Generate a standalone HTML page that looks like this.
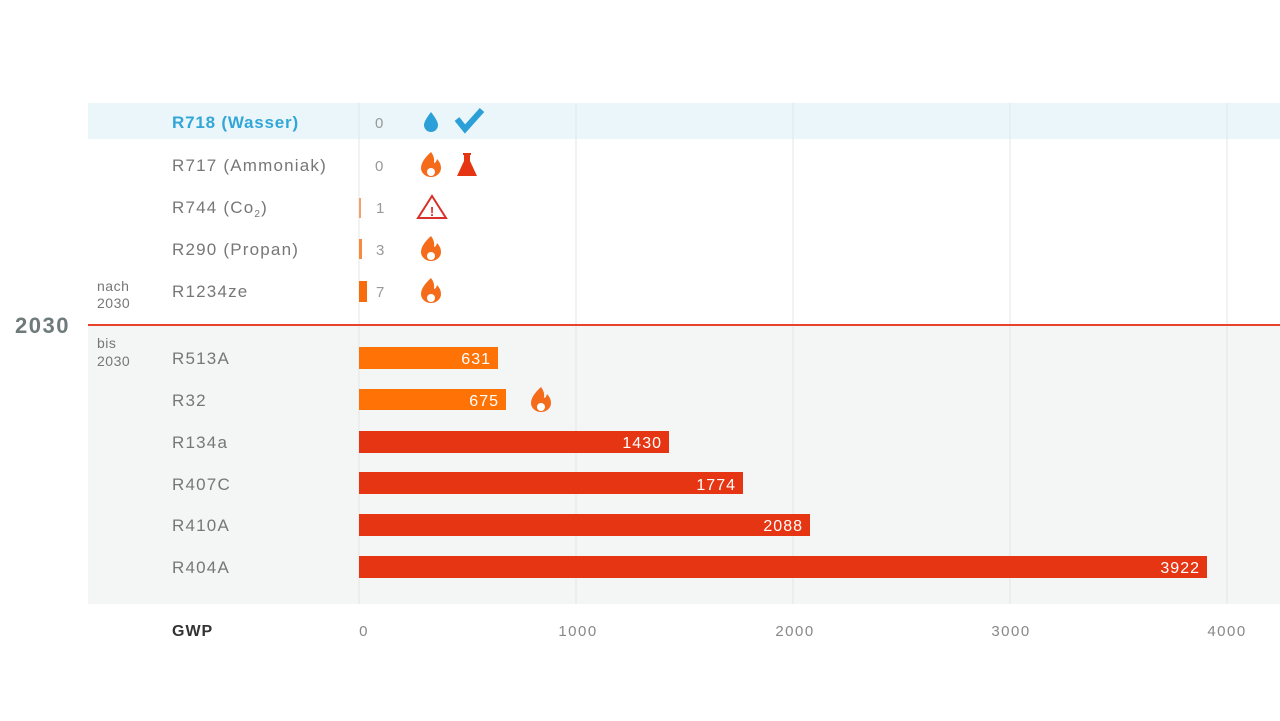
<!DOCTYPE html>
<html><head><meta charset="utf-8"><style>
body{margin:0;background:#fff}
svg{display:block;font-family:"Liberation Sans",sans-serif}
</style></head><body>
<svg width="1280" height="721" viewBox="0 0 1280 721">
<rect x="88" y="103" width="1192" height="36" fill="#eaf6fa"/>
<rect x="88" y="326" width="1192" height="278" fill="#f4f5f5"/>
<g stroke="#e3e5e5" stroke-width="1">
<line x1="359" y1="103" x2="359" y2="604"/>
<line x1="576" y1="103" x2="576" y2="604"/>
<line x1="793" y1="103" x2="793" y2="604"/>
<line x1="1010" y1="103" x2="1010" y2="604"/>
<line x1="1227" y1="103" x2="1227" y2="604"/>
</g>
<line x1="88" y1="325" x2="1280" y2="325" stroke="#e8412c" stroke-width="2"/>
<g font-size="17" fill="#777" letter-spacing="1.2">
<text x="172" y="128" fill="#33a6d8" font-weight="bold" letter-spacing="0.8">R718 (Wasser)</text>
<text x="172" y="171">R717 (Ammoniak)</text>
<text x="172" y="213">R744 (Co<tspan font-size="10" dy="4">2</tspan><tspan dy="-4">)</tspan></text>
<text x="172" y="255">R290 (Propan)</text>
<text x="172" y="297">R1234ze</text>
<text x="172" y="364">R513A</text>
<text x="172" y="406">R32</text>
<text x="172" y="448">R134a</text>
<text x="172" y="490">R407C</text>
<text x="172" y="531">R410A</text>
<text x="172" y="573">R404A</text>
</g>
<g font-size="15" fill="#999">
<text x="375" y="128">0</text><text x="375" y="171">0</text>
<text x="376" y="213">1</text><text x="376" y="255">3</text><text x="376" y="297">7</text>
</g>
<g font-size="14" fill="#777" letter-spacing="0.5">
<text x="97" y="291">nach</text><text x="97" y="308">2030</text>
<text x="97" y="348">bis</text><text x="97" y="366">2030</text>
</g>
<text x="15" y="333" font-size="22" font-weight="bold" fill="#6f7a7a" letter-spacing="1.5">2030</text>
<g fill="#f6a06a"><rect x="359" y="198" width="2" height="20"/></g>
<rect x="359" y="239" width="3" height="20" fill="#f78a3e"/>
<rect x="359" y="281" width="8" height="21" fill="#f76c0c"/>
<rect x="359" y="347" width="139" height="22" fill="#ff7306"/>
<rect x="359" y="389" width="147" height="21" fill="#ff7306"/>
<rect x="359" y="431" width="310" height="22" fill="#e53512"/>
<rect x="359" y="472" width="384" height="22" fill="#e53512"/>
<rect x="359" y="514" width="451" height="22" fill="#e53512"/>
<rect x="359" y="556" width="848" height="22" fill="#e53512"/>
<g font-size="16" fill="#fff" text-anchor="end" letter-spacing="1">
<text x="491" y="364">631</text><text x="499" y="406">675</text>
<text x="662" y="448">1430</text><text x="736" y="490">1774</text>
<text x="803" y="531">2088</text><text x="1200" y="573">3922</text>
</g>
<path d="M431 112 q-7 9 -7 13 a7 7 0 0 0 14 0 q0 -4 -7 -13z" fill="#2b9fd8"/>
<path d="M457 119 l8 10 l17 -19" stroke="#2b9fd8" stroke-width="6" fill="none"/>
<g fill="#f46c1a">
<path id="fl" d="M431 152 q-10 9 -10 16 a10 9 0 0 0 20 0 q0 -5 -4 -9 q-1 4 -3 4 q1 -6 -3 -11z"/>
<use href="#fl" y="84"/><use href="#fl" y="126"/><use href="#fl" x="110" y="235"/>
</g>
<circle cx="431" cy="172" r="4" fill="#fff"/><circle cx="431" cy="256" r="4" fill="#fff"/><circle cx="431" cy="298" r="4" fill="#fff"/><circle cx="541" cy="407" r="4" fill="#fff"/>
<path d="M463 153 h8 v2 h-1 v6 l7 15 h-20 l7 -15 v-6 h-1z" fill="#e53512"/>
<path d="M432 196 l14 22 h-28z" fill="none" stroke="#d7312a" stroke-width="2"/>
<text x="432" y="216" font-size="13" font-weight="bold" fill="#d7312a" text-anchor="middle">!</text>
<text x="172" y="636" font-size="16" font-weight="bold" fill="#333" letter-spacing="1">GWP</text>
<g font-size="15" fill="#888" text-anchor="middle" letter-spacing="1.5">
<text x="364" y="636">0</text><text x="578" y="636">1000</text><text x="795" y="636">2000</text>
<text x="1011" y="636">3000</text><text x="1227" y="636">4000</text>
</g>
</svg>
</body></html>
